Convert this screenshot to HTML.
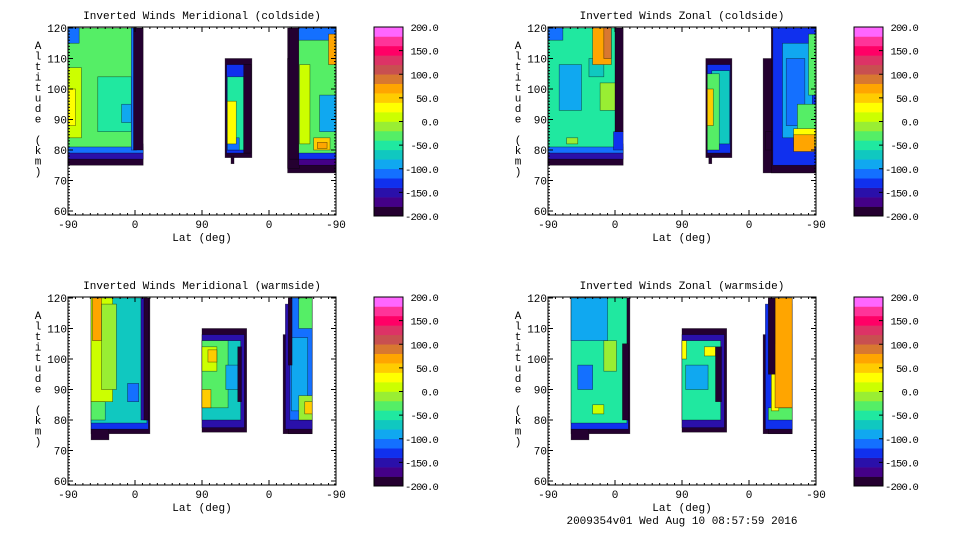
<!DOCTYPE html>
<html><head><meta charset="utf-8"><style>
html,body{margin:0;padding:0;background:#fff;}
svg{display:block;font-family:"Liberation Mono","DejaVu Sans Mono",monospace;}
</style></head><body>
<svg id="c" width="960" height="540" viewBox="0 0 960 540" xmlns="http://www.w3.org/2000/svg">
<rect width="960" height="540" fill="#fff"/>
<text x="682" y="524" font-size="11" text-anchor="middle">2009354v01 Wed Aug 10 08:57:59 2016</text>
</svg>
<script>
const titles=["Inverted Winds Meridional (coldside)","Inverted Winds Zonal (coldside)","Inverted Winds Meridional (warmside)","Inverted Winds Zonal (warmside)"];
const xTickLabels=["-90","0","90","0","-90"];
const yTickLabels=[60,70,80,90,100,110,120];
const cbarLabels=["200.0","150.0","100.0","50.0","0.0","-50.0","-100.0","-150.0","-200.0"];
const levelColors=["#240030","#440088","#2a10aa","#1030ee","#1470ff","#10a8f0","#10c8c0","#20e8a0","#55ee66","#99ee33","#ccff00","#ffff00","#ffcc00","#ffa500","#d87830","#c85050","#dd3366","#ff0066","#ff3399","#ff66ff"];
// cells: [u0,u1,alt0,alt1,value]  (u: 0..360 along the axis -90..0..90..0..-90)
const cellsMerCold=[
[0,101,75,81,-185],[0,101,77,80,-150],[0,101,79,82,-110],[0,92,81,120,-35],[0,15,115,120,-110],
[0,18,84,107,10],[0,10,88,100,30],[40,85,86,104,-60],[72,85,89,95,-90],[85,92,80,120,-120],[88,101,80,120,-200],
[211,247,77.5,110,-185],[219,223,75.5,78,-185],[213,245,79,108,-130],[214,236,80,104,-60],[214,230,80,84,-110],[214,226,82,96,20],[236,246,79,108,-200],
[295,360,72.5,120,-185],[295,311,74,110,-190],[297,310,77,120,-200],[310,360,75,78,-180],[310,360,77,80,-140],[310,360,79,120,-35],[310,360,116,120,-110],
[311,325,82,108,15],[338,360,86,98,-90],[330,352,80,84,40],[335,348,80.5,82.5,75],[350,360,108,118,60]];
const cellsZonCold=[
[0,101,75,81,-185],[0,101,77,80,-150],[0,101,79,82,-110],[0,92,81,120,-45],[0,20,116,120,-120],
[15,45,93,108,-85],[55,75,104,110,-80],[70,92,93,102,-5],[25,40,82,84,-10],[60,85,108,120,60],[75,85,110,120,90],[88,101,80,86,-130],[90,101,86,120,-200],
[212,247,77.5,110,-185],[216,220,75.5,78,-185],[214,245,79,108,-140],[220,244,82,106,-80],[214,230,80,105,-30],[214,222,88,100,40],
[289,360,72.5,110,-185],[300,360,72.5,120,-185],[302,360,75,120,-140],[315,355,84,115,-95],[320,345,88,110,-110],[335,360,82,95,-40],[350,360,98,118,-30],[330,360,81,87,20],[330,358,79.5,85,75],[292,300,80,86,-200]];
const cellsMerWarm=[
[31,110,75.5,120,-185],[31,55,73.5,77,-185],[31,108,77,80,-140],[31,106,79,120,-70],[31,50,80,86,-40],[31,60,86,120,15],[33,45,106,120,70],[45,65,90,118,-20],[80,95,86,92,-110],[98,106,80,120,-150],[102,108,80,120,-200],
[180,240,76,110,-185],[180,237,77.5,108,-150],[180,232,80,106,-80],[180,215,84,106,-30],[180,200,96,104,10],[188,200,99,103,40],[180,192,84,90,50],[212,230,90,98,-90],[228,233,86,104,-200],
[289,328,75.5,108,-185],[296,328,75.5,120,-185],[292,328,77,118,-150],[298,328,80,120,-110],[300,322,83,107,-100],[310,328,110,120,-40],[310,328,80,88,-20],[318,328,82,86,40],[296,301,98,120,-200]];
const cellsZonWarm=[
[31,110,75.5,120,-185],[31,55,73.5,77,-185],[31,108,77,80,-140],[31,106,79,120,-45],[31,80,106,120,-90],[40,60,90,98,-110],[75,92,96,106,-10],[60,75,82,85,10],[100,108,80,105,-200],
[180,240,76,110,-185],[180,237,77.5,108,-150],[180,232,80,106,-60],[185,215,90,98,-90],[210,225,101,104,30],[180,186,100,106,20],[225,233,86,104,-200],
[289,328,75.5,108,-185],[296,328,75.5,120,-185],[292,328,77,118,-140],[296,328,80,84,-30],[300,310,83,105,20],[305,328,84,120,60],[296,305,95,120,-200]];
const panelCells=[cellsMerCold,cellsZonCold,cellsMerWarm,cellsZonWarm];

const NS="http://www.w3.org/2000/svg";
const svg=document.getElementById('c');
function mk(tag,attrs,parent){const e=document.createElementNS(NS,tag);for(const k in attrs)e.setAttribute(k,attrs[k]);(parent||svg).appendChild(e);return e;}
function colorFor(v){let i=Math.floor((v+200)/20);i=Math.max(0,Math.min(19,i));return levelColors[i];}
const origins=[[68,27],[548,27],[68,297],[548,297]];
const W=268,H=188;
origins.forEach((o,p)=>{
  const ox=o[0],oy=o[1];
  const g=mk('g',{});
  
  
  const xs=u=>ox+u*W/360;
  const ys=a=>oy+1+(120-a)*3.05;
  const t=mk('text',{x:ox+W/2,y:oy-8,'font-size':11,'text-anchor':'middle'},g);
  t.textContent=titles[p];
  
  
  panelCells[p].forEach(c=>{
    const x0=xs(c[0]),x1=xs(c[1]),y0=ys(c[3]),y1=Math.min(ys(c[2]),oy+H);
    const r=mk('rect',{x:x0,y:y0,width:x1-x0,height:y1-y0,fill:colorFor(c[4]),stroke:'rgba(0,0,0,0.55)','stroke-width':0.6},g);
    
    
  });
  const fr=mk('rect',{x:ox,y:oy,width:W,height:H,fill:'none',stroke:'#000','stroke-width':1},g);
  
  
  for(let u=0;u<=360;u+=10){
    const len=(u%90===0)?5:2;
    mk('line',{x1:xs(u),x2:xs(u),y1:oy+H,y2:oy+H-len,stroke:'#000'},g);
    mk('line',{x1:xs(u),x2:xs(u),y1:oy,y2:oy+len,stroke:'#000'},g);
  }
  xTickLabels.forEach((l,i)=>{
    const tx=mk('text',{x:xs(i*90),y:oy+H+13,'font-size':11,'text-anchor':'middle'},g);
    tx.textContent=l;
    
    
  });
  const xl=mk('text',{x:ox+W/2,y:oy+H+26,'font-size':11,'text-anchor':'middle'},g);
  xl.textContent='Lat (deg)';
  
  
  for(let a=59;a<=120;a++){
    const len=(a%10===0)?5:2;
    mk('line',{x1:ox,x2:ox+len,y1:ys(a),y2:ys(a),stroke:'#000'},g);
    mk('line',{x1:ox+W,x2:ox+W-len,y1:ys(a),y2:ys(a),stroke:'#000'},g);
  }
  yTickLabels.forEach(a=>{
    const ty=mk('text',{x:ox-1,y:ys(a)+4,'font-size':11,'text-anchor':'end'},g);
    ty.textContent=a;
    
    
  });
  const yt=mk('text',{x:ox-30,y:oy+22,'font-size':11,'text-anchor':'middle'},g);
  
  
  'Altitude (km)'.split('').forEach((ch,i)=>{const s=mk('tspan',{x:ox-30,y:oy+22+i*10.5},yt);s.textContent=ch===' '?'\u00a0':ch;});
  const cx=ox+306,cw=29,cy=oy,ch=189;
  const cb=mk('g',{},g);
  
  
  levelColors.forEach((col,i)=>{
    const bh=ch/20;
    mk('rect',{x:cx,y:cy+ch-(i+1)*bh,width:cw,height:bh+0.3,fill:col},cb);
  });
  mk('rect',{x:cx,y:cy,width:cw,height:ch,fill:'none',stroke:'#000'},cb);
  cbarLabels.forEach((l,i)=>{
    const yy=cy+i*ch/8;
    if(i>0&&i<8) mk('line',{x1:cx+cw-4,x2:cx+cw,y1:yy,y2:yy,stroke:'#000'},cb);
    const tl=mk('text',{x:cx+64,y:yy+4,'font-size':10.5,'letter-spacing':'-0.8','text-anchor':'end'},cb);
    tl.textContent=l;
    
    
  });
});
</script>
</body></html>
